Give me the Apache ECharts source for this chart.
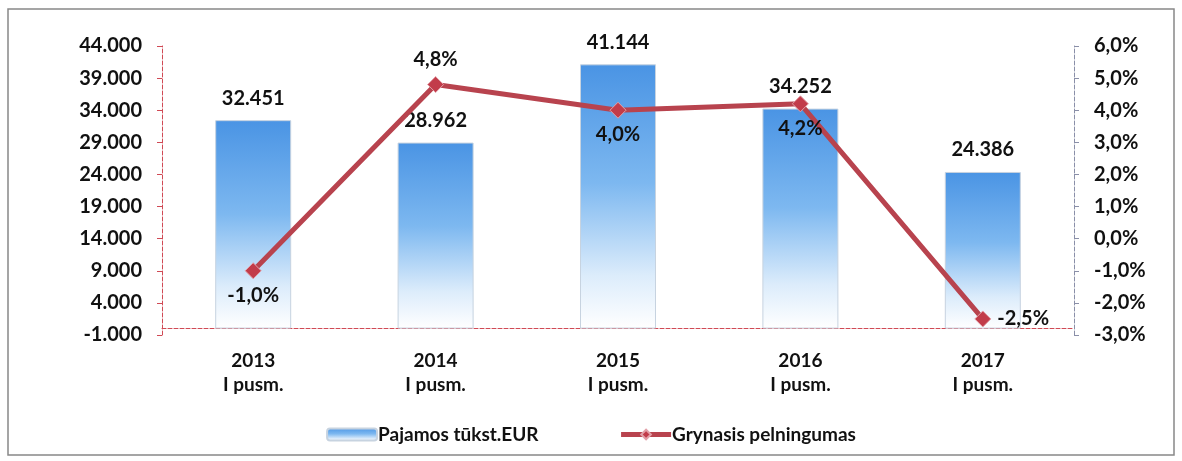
<!DOCTYPE html>
<html lang="lt">
<head>
    <meta charset="UTF-8">
    <title>Pajamos ir pelningumas</title>
    <style>
        html, body { margin: 0; padding: 0; background: #fff; }
        #chart { width: 1182px; height: 461px; }
    </style>
</head>
<body>
<div id="chart"></div>
<script src="https://cdn.jsdelivr.net/npm/echarts@6/dist/echarts.min.js"></script>
<script type="text/javascript">
    var categories = ['2013\nI pusm.', '2014\nI pusm.', '2015\nI pusm.', '2016\nI pusm.', '2017\nI pusm.'];
    var revenue = [32451, 28962, 41144, 34252, 24386];      // Pajamos tūkst.EUR
    var margin = [-1.0, 4.8, 4.0, 4.2, -2.5];               // Grynasis pelningumas, %
    var marginLabelPos = ['bottom', 'top', 'bottom', 'bottom', 'right'];

    var fontFam = 'Lato';

    function thousands(v) {
        return (v / 1000).toFixed(3);
    }
    function pct(v) {
        return v.toFixed(1).replace('.', ',') + '%';
    }

    var chart = echarts.init(document.getElementById('chart'));
    var option = {
        animation: false,
        textStyle: { fontFamily: fontFam },
        graphic: [{
            type: 'rect',
            shape: { x: 8, y: 9, width: 1166, height: 446 },
            style: { fill: 'none', stroke: '#888', lineWidth: 1.5 }
        }],
        grid: {
            left: 162,
            right: 108,
            top: 46,
            bottom: 126
        },
        legend: {
            bottom: 12,
            left: 'center',
            itemGap: 80,
            itemWidth: 50,
            itemHeight: 12,
            textStyle: { fontSize: 19, fontWeight: 'bold', color: '#111', fontFamily: fontFam, padding: [0, 0, 0, -4] },
            lineStyle: { width: 5 },
            data: ['Pajamos tūkst.EUR', 'Grynasis pelningumas']
        },
        xAxis: [{
            type: 'category',
            data: categories,
            axisLine: { lineStyle: { color: '#d04a55', type: 'dashed', width: 1 } },
            axisTick: { show: false },
            axisLabel: {
                color: '#111',
                fontSize: 19,
                fontWeight: 'bold',
                lineHeight: 24,
                margin: 14
            }
        }],
        yAxis: [{
            type: 'value',
            min: -1000,
            max: 44000,
            interval: 5000,
            position: 'left',
            splitLine: { show: false },
            axisLine: { show: true, lineStyle: { color: '#d04a55', type: 'dashed' } },
            axisTick: { show: true, length: 5, inside: false, lineStyle: { color: '#d04a55' } },
            axisLabel: {
                color: '#111',
                fontSize: 20,
                fontWeight: 'bold',
                margin: 20,
                formatter: thousands
            }
        }, {
            type: 'value',
            min: -3,
            max: 6,
            interval: 1,
            position: 'right',
            splitLine: { show: false },
            axisLine: { show: true, lineStyle: { color: '#8a8fa8', type: 'dashed' } },
            axisTick: { show: true, length: 5, lineStyle: { color: '#8a8fa8' } },
            axisLabel: {
                color: '#111',
                fontSize: 20,
                fontWeight: 'bold',
                margin: 20,
                formatter: pct
            }
        }],
        series: [{
            name: 'Pajamos tūkst.EUR',
            type: 'bar',
            barWidth: 76,
            yAxisIndex: 0,
            data: revenue,
            itemStyle: {
                color: new echarts.graphic.LinearGradient(0, 0, 0, 1, [
                    { offset: 0, color: '#4a94e4' },
                    { offset: 0.45, color: '#7db8f0' },
                    { offset: 0.8, color: '#dcecfb' },
                    { offset: 1, color: '#ffffff' }
                ]),
                borderColor: '#c7d3e0',
                borderWidth: 1
            },
            label: {
                show: true,
                position: 'top',
                distance: 12,
                color: '#111',
                fontSize: 20,
                fontWeight: 'bold',
                formatter: function (p) { return thousands(p.value); }
            },
            z: 2
        }, {
            name: 'Grynasis pelningumas',
            type: 'line',
            yAxisIndex: 1,
            data: margin.map(function (v, i) {
                return { value: v, label: { position: marginLabelPos[i] } };
            }),
            symbol: 'diamond',
            symbolSize: 16,
            lineStyle: { color: '#b8434e', width: 5 },
            itemStyle: { color: '#c23c4a', borderColor: '#e2a0a8', borderWidth: 1 },
            label: {
                show: true,
                distance: 6,
                color: '#111',
                fontSize: 20,
                fontWeight: 'bold',
                formatter: function (p) { return pct(p.value); }
            },
            z: 5
        }]
    };
    chart.setOption(option);
</script>
</body>
</html>
